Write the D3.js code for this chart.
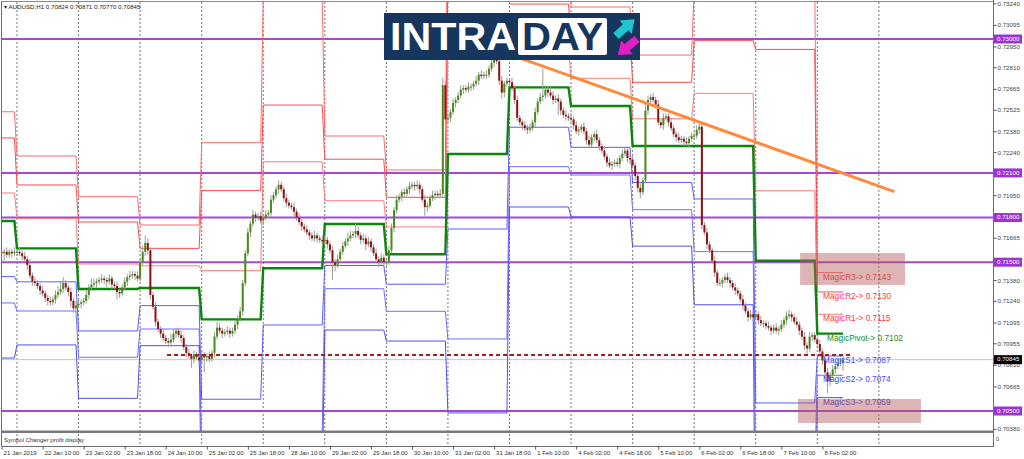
<!DOCTYPE html>
<html>
<head>
<meta charset="utf-8">
<script src="https://cdn.jsdelivr.net/npm/d3@7"></script>
<style>
  body { margin: 0; background: #fff; }
  svg { display: block; font-family: "Liberation Sans", Arial, sans-serif; }
</style>
</head>
<body>
<svg id="chart" width="1024" height="459"></svg>
<script>
// ---- data (prices in pips above 0.70000) ----
const dayStart = [0, 6, 30, 54, 78, 102, 126, 150, 174, 198, 222, 246, 270, 294, 318];
const lastBar = 328;
const gridBars = [6, 30, 54, 78, 102, 126, 150, 174, 198, 222, 246, 270, 294, 318, 342];

const firstOpen = 157;
const d21 = [156, 157, 155, 157, 156, 157];
const d22 = [157, 156, 154, 152, 148, 141, 137, 136, 134, 131, 129, 126, 124, 123, 125, 128, 130, 132, 136, 133, 130, 124, 119, 121];
const d23 = [122, 123, 124, 128, 133, 135, 136, 137, 138, 139, 138, 137, 139, 135, 134, 130, 129, 133, 137, 140, 141, 142, 141, 139];
const d24 = [150, 157, 163, 158, 128, 120, 110, 105, 102, 99, 97, 96, 98, 102, 104, 101, 99, 93, 89, 87, 85, 88, 86, 84];
const d25 = [88, 86, 87, 85, 89, 100, 106, 104, 102, 103, 104, 102, 104, 108, 112, 117, 136, 156, 170, 176, 182, 180, 181, 178];
const d28 = [180, 182, 183, 192, 195, 199, 202, 199, 193, 190, 188, 187, 184, 180, 177, 174, 172, 170, 168, 166, 168, 166, 165, 164];
const d29 = [165, 162, 158, 150, 148, 152, 157, 161, 164, 166, 168, 169, 171, 168, 165, 166, 162, 164, 160, 156, 152, 150, 153, 150];
const d30 = [150, 158, 173, 185, 192, 194, 197, 196, 199, 201, 202, 201, 202, 199, 192, 187, 188, 193, 195, 196, 195, 196, 269, 246];
const d31 = [247, 251, 257, 259, 262, 266, 267, 266, 268, 268, 270, 272, 276, 275, 276, 276, 280, 284, 286, 285, 272, 264, 270, 272];
const f01 = [271, 267, 259, 247, 244, 242, 240, 239, 240, 244, 251, 258, 261, 262, 266, 264, 262, 259, 260, 258, 252, 249, 248, 247];
const f04 = [246, 242, 238, 239, 241, 238, 232, 229, 234, 236, 232, 228, 225, 221, 217, 215, 216, 217, 216, 220, 223, 225, 220, 219];
const f05 = [215, 208, 200, 197, 205, 252, 259, 261, 259, 256, 244, 242, 247, 248, 244, 240, 236, 234, 232, 233, 231, 230, 233, 235];
const f06 = [235, 239, 241, 175, 170, 162, 158, 151, 143, 136, 136, 138, 140, 138, 136, 133, 131, 129, 125, 121, 117, 113, 115, 113];
const f07 = [115, 111, 109, 109, 107, 106, 104, 106, 104, 105, 108, 111, 114, 115, 113, 110, 108, 104, 100, 94, 92, 100, 101, 98];
const f08 = [95, 90, 84, 76, 70, 74, 78, 80, 82, 82.4, 84.5];

// wick lengths beyond the body, pips
const hi21 = [3, 2, 3, 2, 2, 3], lo21 = [2, 6, 2, 2, 3, 2];
const hi22 = [2, 3, 2, 3, 2, 4, 2, 3, 2, 2, 3, 2, 2, 3, 2, 3, 4, 5, 4, 2, 2, 3, 2, 3];
const lo22 = [3, 2, 3, 2, 3, 2, 3, 2, 2, 3, 2, 3, 3, 2, 2, 3, 2, 2, 3, 2, 3, 4, 3, 2];
const hi23 = [3, 2, 2, 3, 2, 4, 3, 2, 2, 3, 2, 2, 3, 2, 2, 3, 2, 2, 3, 2, 3, 2, 2, 3];
const lo23 = [2, 3, 2, 2, 3, 2, 2, 3, 2, 2, 3, 4, 2, 3, 2, 5, 3, 2, 2, 3, 2, 2, 3, 2];
const hi24 = [3, 4, 5, 3, 2, 2, 3, 2, 2, 3, 2, 2, 4, 3, 2, 2, 3, 2, 2, 3, 2, 3, 2, 3];
const lo24 = [2, 2, 3, 3, 3, 2, 3, 2, 3, 2, 2, 3, 2, 2, 3, 2, 3, 2, 3, 2, 6, 3, 2, 3];
const hi25 = [3, 2, 2, 3, 2, 3, 4, 3, 2, 2, 3, 2, 2, 3, 2, 3, 2, 2, 3, 2, 3, 2, 2, 3];
const lo25 = [3, 10, 3, 2, 2, 3, 2, 2, 3, 2, 2, 3, 2, 2, 3, 2, 3, 2, 2, 3, 2, 3, 2, 2];
const hi28 = [2, 3, 2, 3, 2, 2, 3, 2, 2, 3, 2, 2, 3, 2, 3, 2, 2, 3, 2, 2, 3, 2, 2, 3];
const lo28 = [3, 2, 2, 3, 2, 2, 3, 2, 2, 3, 2, 2, 3, 2, 2, 3, 2, 2, 3, 2, 2, 3, 2, 2];
const hi29 = [3, 2, 2, 3, 2, 3, 2, 3, 2, 4, 3, 2, 5, 3, 2, 3, 2, 3, 2, 2, 3, 2, 3, 2];
const lo29 = [2, 3, 2, 12, 4, 2, 3, 2, 2, 3, 2, 2, 3, 2, 3, 2, 4, 2, 3, 2, 2, 3, 2, 3];
const hi30 = [2, 3, 3, 2, 3, 2, 2, 3, 2, 3, 2, 2, 3, 2, 2, 3, 2, 2, 3, 2, 2, 3, 5, 3];
const lo30 = [3, 2, 2, 3, 2, 2, 3, 2, 2, 3, 2, 3, 2, 3, 2, 7, 3, 2, 2, 3, 2, 2, 3, 4];
const hi31 = [3, 2, 3, 2, 2, 3, 2, 2, 3, 2, 2, 3, 2, 3, 2, 3, 2, 3, 5, 3, 2, 3, 2, 2];
const lo31 = [2, 3, 2, 3, 2, 2, 3, 2, 2, 3, 2, 2, 3, 2, 2, 3, 2, 2, 3, 2, 3, 4, 3, 2];
const hiF01 = [2, 3, 2, 3, 2, 2, 3, 2, 3, 2, 3, 2, 3, 18, 3, 2, 4, 3, 2, 3, 2, 2, 3, 2];
const loF01 = [3, 2, 3, 2, 2, 3, 2, 3, 2, 2, 3, 2, 2, 3, 2, 3, 2, 3, 2, 9, 3, 2, 3, 2];
const hiF04 = [3, 2, 3, 2, 2, 3, 2, 3, 2, 2, 3, 2, 2, 3, 2, 3, 2, 2, 3, 2, 3, 2, 2, 3];
const loF04 = [2, 3, 2, 3, 2, 2, 3, 2, 2, 3, 2, 3, 2, 2, 3, 2, 3, 2, 2, 3, 2, 2, 3, 3];
const hiF05 = [3, 2, 2, 3, 2, 4, 3, 2, 3, 2, 3, 2, 3, 2, 2, 3, 2, 2, 3, 2, 2, 3, 2, 2];
const loF05 = [2, 3, 3, 4, 2, 2, 3, 2, 2, 3, 2, 2, 3, 2, 3, 2, 2, 3, 2, 2, 3, 2, 3, 2];
const hiF06 = [2, 3, 2, 3, 2, 3, 2, 2, 3, 2, 3, 2, 2, 3, 2, 2, 3, 2, 2, 3, 2, 2, 3, 2];
const loF06 = [3, 2, 3, 3, 2, 3, 2, 2, 3, 2, 2, 3, 2, 2, 3, 2, 3, 2, 2, 3, 2, 3, 2, 3];
const hiF07 = [3, 2, 3, 2, 2, 3, 2, 2, 3, 2, 3, 2, 3, 3, 2, 2, 3, 2, 2, 3, 2, 3, 2, 2];
const loF07 = [2, 3, 2, 3, 2, 2, 3, 2, 2, 3, 2, 2, 3, 2, 3, 2, 2, 3, 2, 3, 4, 2, 3, 2];
const hiF08 = [2, 3, 2, 2, 3, 2, 3, 2, 3, 3, 2.6];
const loF08 = [3, 2, 3, 4, 8, 3, 2, 3, 2, 2, 5.4];

// daily pivot levels, one value per day (pips)
const r3 = [251.1, 221.4, 194.0, 175.0, 230.3, 327.3, 234.8, 212.0, 421.0, 347.4, 321.5, 289.2, 334.5, 340.1, 143];
const r2 = [233.5, 201.9, 177.0, 159.3, 198.1, 255.6, 219.2, 193.6, 347.0, 323.5, 301.3, 270.9, 299.1, 293.0, 130];
const r1 = [196.5, 179.4, 148.8, 147.6, 144.3, 217.5, 191.3, 173.7, 296.6, 294.0, 273.6, 246.4, 263.5, 198.0, 115];
const pv = [177.7, 159.3, 132.0, 132.7, 111.6, 145.9, 175.7, 155.3, 222.7, 267.5, 255.0, 228.1, 228.1, 151.0, 102];
const s1 = [140.3, 136.8, 103.8, 120.8, 57.9, 107.8, 147.8, 135.2, 172.3, 240.7, 227.2, 203.6, 192.5, 55.4, 87];
const s2 = [122.6, 117.2, 86.1, 105.1, 25.2, 36.2, 132.2, 117.0, 98.4, 214.2, 208.6, 185.3, 157.1, 9.0, 74];
const s3 = [85.6, 94.4, 58.5, 93.9, -28.6, -1.7, 104.4, 97.0, 48.7, 187.1, 180.4, 160.8, 121.4, -85.8, 59];

const levelNames = ["R3", "R2", "R1", "Pivot", "S1", "S2", "S3"];
const purpleLevels = [0.7300, 0.7210, 0.7180, 0.7150, 0.7050];
const priceTicks = [0.73240, 0.73095, 0.72950, 0.72810, 0.72665, 0.72525, 0.72380, 0.72240, 0.71950,
  0.71665, 0.71380, 0.71240, 0.71095, 0.70955, 0.70810, 0.70665, 0.70380];
const timeTickBars = [0, 16, 32, 48, 64, 80, 96, 112, 128, 144, 160, 176, 192, 208, 224, 240, 256, 272, 288, 304, 320];
const timeTickLabels = ["21 Jan 2019", "22 Jan 10:00", "23 Jan 02:00", "23 Jan 18:00", "24 Jan 10:00", "25 Jan 02:00",
  "25 Jan 18:00", "28 Jan 10:00", "29 Jan 02:00", "29 Jan 18:00", "30 Jan 10:00", "31 Jan 02:00", "31 Jan 18:00",
  "1 Feb 10:00", "4 Feb 02:00", "4 Feb 18:00", "5 Feb 10:00", "6 Feb 02:00", "6 Feb 18:00", "7 Feb 10:00", "8 Feb 02:00"];

const trendPts = [[192.2, 0.72933], [348, 0.71974]];
const dashLevel = {from: 64.5, to: 331.5, price: 0.70876};
const zones = [{b0: 311.3, b1: 352.2, p0: 0.71562, p1: 0.71347}, {b0: 310.5, b1: 358.4, p0: 0.70581, p1: 0.70419}];
const header = "AUDUSD,H1  0.70824 0.70871 0.70770 0.70845";

// ---- assemble ----
const closePips = [].concat(d21, d22, d23, d24, d25, d28, d29, d30, d31, f01, f04, f05, f06, f07, f08);
const wickHi = [].concat(hi21, hi22, hi23, hi24, hi25, hi28, hi29, hi30, hi31, hiF01, hiF04, hiF05, hiF06, hiF07, hiF08);
const wickLo = [].concat(lo21, lo22, lo23, lo24, lo25, lo28, lo29, lo30, lo31, loF01, loF04, loF05, loF06, loF07, loF08);
const px = p => 0.7 + p / 10000;

const svg = d3.select("#chart");
const x = d3.scaleLinear().domain([0, 386.5]).range([1.6, 993]);
const y = d3.scaleLinear().domain([0.705, 0.730]).range([411, 39]);

svg.append("rect").attr("width", 1024).attr("height", 459).attr("fill", "#fff");
svg.append("defs").append("clipPath").attr("id", "clip")
  .append("rect").attr("x", 2).attr("y", 2).attr("width", 991).attr("height", 429);

// grid (day separators)
svg.append("g").selectAll("line").data(gridBars).join("line")
  .attr("x1", d => x(d)).attr("x2", d => x(d)).attr("y1", 2).attr("y2", 446)
  .attr("stroke", "#555").attr("stroke-width", 0.8).attr("stroke-dasharray", "2,2");

const main = svg.append("g").attr("clip-path", "url(#clip)");

// current price line
const lastPrice = px(closePips[closePips.length - 1]);
main.append("line").attr("x1", 2).attr("x2", 993).attr("y1", y(lastPrice)).attr("y2", y(lastPrice))
  .attr("stroke", "#c4c4c4").attr("stroke-width", 1);

// purple horizontal levels
main.selectAll(".plev").data(purpleLevels).join("line").attr("class", "plev")
  .attr("x1", 2).attr("x2", 993).attr("y1", d => y(d)).attr("y2", d => y(d))
  .attr("stroke", "#a548d8").attr("stroke-width", 2);

// pivot lines
const levels = [
  {v: r3, c: "#ff6b6b", w: 1}, {v: r2, c: "#ff4a4a", w: 1}, {v: r1, c: "#ff7a7a", w: 1},
  {v: pv, c: "#0b850b", w: 2.4},
  {v: s1, c: "#5c5cff", w: 1}, {v: s2, c: "#7070ff", w: 1}, {v: s3, c: "#5050f0", w: 1}
];
const lineGen = d3.line().x(p => x(p[0])).y(p => y(px(p[1])));
levels.forEach(L => {
  const pts = [];
  L.v.forEach((v, d) => {
    const s = d === 0 ? -2 : dayStart[d];
    const e = d === dayStart.length - 1 ? lastBar : dayStart[d + 1] - 1;
    pts.push([s, v], [e, v]);
  });
  main.append("path").attr("d", lineGen(pts)).attr("fill", "none")
    .attr("stroke", L.c).attr("stroke-width", L.w);
});

// candles
const bars = closePips.map((c, i) => {
  const o = i ? closePips[i - 1] : firstOpen;
  return {i, o, c, h: Math.max(o, c) + wickHi[i], l: Math.min(o, c) - wickLo[i]};
});
const cg = main.append("g");
cg.selectAll("line").data(bars).join("line")
  .attr("x1", d => x(d.i)).attr("x2", d => x(d.i))
  .attr("y1", d => y(px(d.h))).attr("y2", d => y(px(d.l)))
  .attr("stroke", "#9c9c9c").attr("stroke-width", 1);
cg.selectAll("rect").data(bars).join("rect")
  .attr("x", d => x(d.i) - 1).attr("width", 2)
  .attr("y", d => y(px(Math.max(d.o, d.c))))
  .attr("height", d => Math.max(1, y(px(Math.min(d.o, d.c))) - y(px(Math.max(d.o, d.c)))))
  .attr("fill", d => d.c >= d.o ? "#4a8a18" : "#8e1212");

// trend line and dashed level
main.append("line")
  .attr("x1", x(trendPts[0][0])).attr("y1", y(trendPts[0][1]))
  .attr("x2", x(trendPts[1][0])).attr("y2", y(trendPts[1][1]))
  .attr("stroke", "#ff8a3c").attr("stroke-width", 3);
main.append("line")
  .attr("x1", x(dashLevel.from)).attr("x2", x(dashLevel.to))
  .attr("y1", y(dashLevel.price)).attr("y2", y(dashLevel.price))
  .attr("stroke", "#a81c1c").attr("stroke-width", 2).attr("stroke-dasharray", "4,3");

// pivot labels for the last day
const lastIdx = dayStart.length - 1;
const labelColors = ["#ff3a3a", "#ff3a3a", "#ff3a3a", "#1c8a1c", "#4646ff", "#4646ff", "#3a3ad0"];
[r3, r2, r1, pv, s1, s2, s3].forEach((arr, k) => {
  const v = arr[lastIdx];
  main.append("text")
    .attr("x", k === 3 ? 827 : 823).attr("y", y(px(v)) + 5)
    .attr("dominant-baseline", "middle")
    .attr("font-size", 8.3).attr("fill", labelColors[k])
    .text("Magic" + levelNames[k] + "-> " + px(v).toFixed(4));
});

// shaded zones
main.selectAll(".zone").data(zones).join("rect").attr("class", "zone")
  .attr("x", d => x(d.b0)).attr("width", d => x(d.b1) - x(d.b0))
  .attr("y", d => y(d.p0)).attr("height", d => y(d.p1) - y(d.p0))
  .attr("fill", "#b35a5a").attr("opacity", 0.45);

// INTRADAY logo
const logo = svg.append("g").attr("transform", "translate(384,13)");
logo.append("rect").attr("width", 256).attr("height", 47).attr("fill", "#17365d");
logo.append("text").attr("x", 6).attr("y", 37).attr("fill", "#fff")
  .attr("font-size", 39).attr("font-weight", "bold")
  .attr("textLength", 126).attr("lengthAdjust", "spacingAndGlyphs").text("INTRA");
logo.append("rect").attr("x", 134).attr("y", 5).attr("width", 89).attr("height", 37)
  .attr("rx", 2).attr("fill", "#fff");
logo.append("text").attr("x", 138).attr("y", 37).attr("fill", "#17365d")
  .attr("font-size", 39).attr("font-weight", "bold")
  .attr("textLength", 81).attr("lengthAdjust", "spacingAndGlyphs").text("DAY");
const arrowShape = [[0, -4], [13, -4], [13, -9], [25, 0], [13, 9], [13, 4], [0, 4]];
logo.append("polygon").attr("points", arrowShape.join(" "))
  .attr("transform", "translate(232,23) rotate(-42)").attr("fill", "#1ec6cf");
logo.append("polygon").attr("points", arrowShape.join(" "))
  .attr("transform", "translate(253,26) rotate(140)").attr("fill", "#e41ec6");

// frame
svg.append("line").attr("x1", 1.5).attr("x2", 1.5).attr("y1", 1).attr("y2", 446).attr("stroke", "#6e6e6e");
svg.append("line").attr("x1", 1.5).attr("x2", 993).attr("y1", 1.5).attr("y2", 1.5).attr("stroke", "#8a8a8a");
svg.append("rect").attr("x", 1.5).attr("y", 430.5).attr("width", 991.5).attr("height", 2.5).attr("fill", "#7a7a7a");
svg.append("line").attr("x1", 1.5).attr("x2", 993).attr("y1", 446.5).attr("y2", 446.5).attr("stroke", "#6e6e6e");
svg.append("line").attr("x1", 993.5).attr("x2", 993.5).attr("y1", 0).attr("y2", 447).attr("stroke", "#6e6e6e");

// header and sub-window caption
svg.append("text").attr("x", 4).attr("y", 8.5).attr("font-size", 6.2).attr("fill", "#222")
  .text("\u25BE " + header);
svg.append("text").attr("x", 4).attr("y", 441.5).attr("font-size", 6).attr("fill", "#333")
  .text("Symbol Changer profit display");

// right price axis
const ya = svg.append("g").attr("transform", "translate(993.5,0)")
  .call(d3.axisRight(y).tickValues(priceTicks).tickSize(3).tickFormat(d3.format(".5f")));
ya.select(".domain").remove();
ya.attr("font-family", "Liberation Sans, Arial, sans-serif").attr("font-size", 6.2);
ya.selectAll("line").attr("stroke", "#555");
ya.selectAll("text").attr("x", 4).attr("fill", "#444");

const tagData = purpleLevels.map(p => ({p, fill: "#9c34d4"})).concat([{p: lastPrice, fill: "#000"}]);
const tags = svg.append("g").selectAll("g").data(tagData).join("g")
  .attr("transform", d => `translate(994,${y(d.p)})`);
tags.append("rect").attr("x", 0).attr("y", -4.5).attr("width", 28).attr("height", 9).attr("fill", d => d.fill);
tags.append("text").attr("x", 3).attr("y", 0).attr("dominant-baseline", "middle")
  .attr("font-size", 6.2).attr("fill", "#fff").text(d => d.p.toFixed(5));
svg.append("text").attr("x", 996).attr("y", 441).attr("font-size", 5.5).attr("fill", "#444").text("0");

// bottom time axis
const xa = svg.append("g").attr("transform", "translate(0,446.5)")
  .call(d3.axisBottom(x).tickValues(timeTickBars).tickSize(3).tickFormat((d, i) => timeTickLabels[i]));
xa.select(".domain").remove();
xa.attr("font-family", "Liberation Sans, Arial, sans-serif").attr("font-size", 6);
xa.selectAll("line").attr("stroke", "#555");
xa.selectAll("text").attr("text-anchor", "start").attr("x", 1.5).attr("y", 8.5)
  .attr("dy", "0").attr("fill", "#333");
</script>
</body>
</html>
